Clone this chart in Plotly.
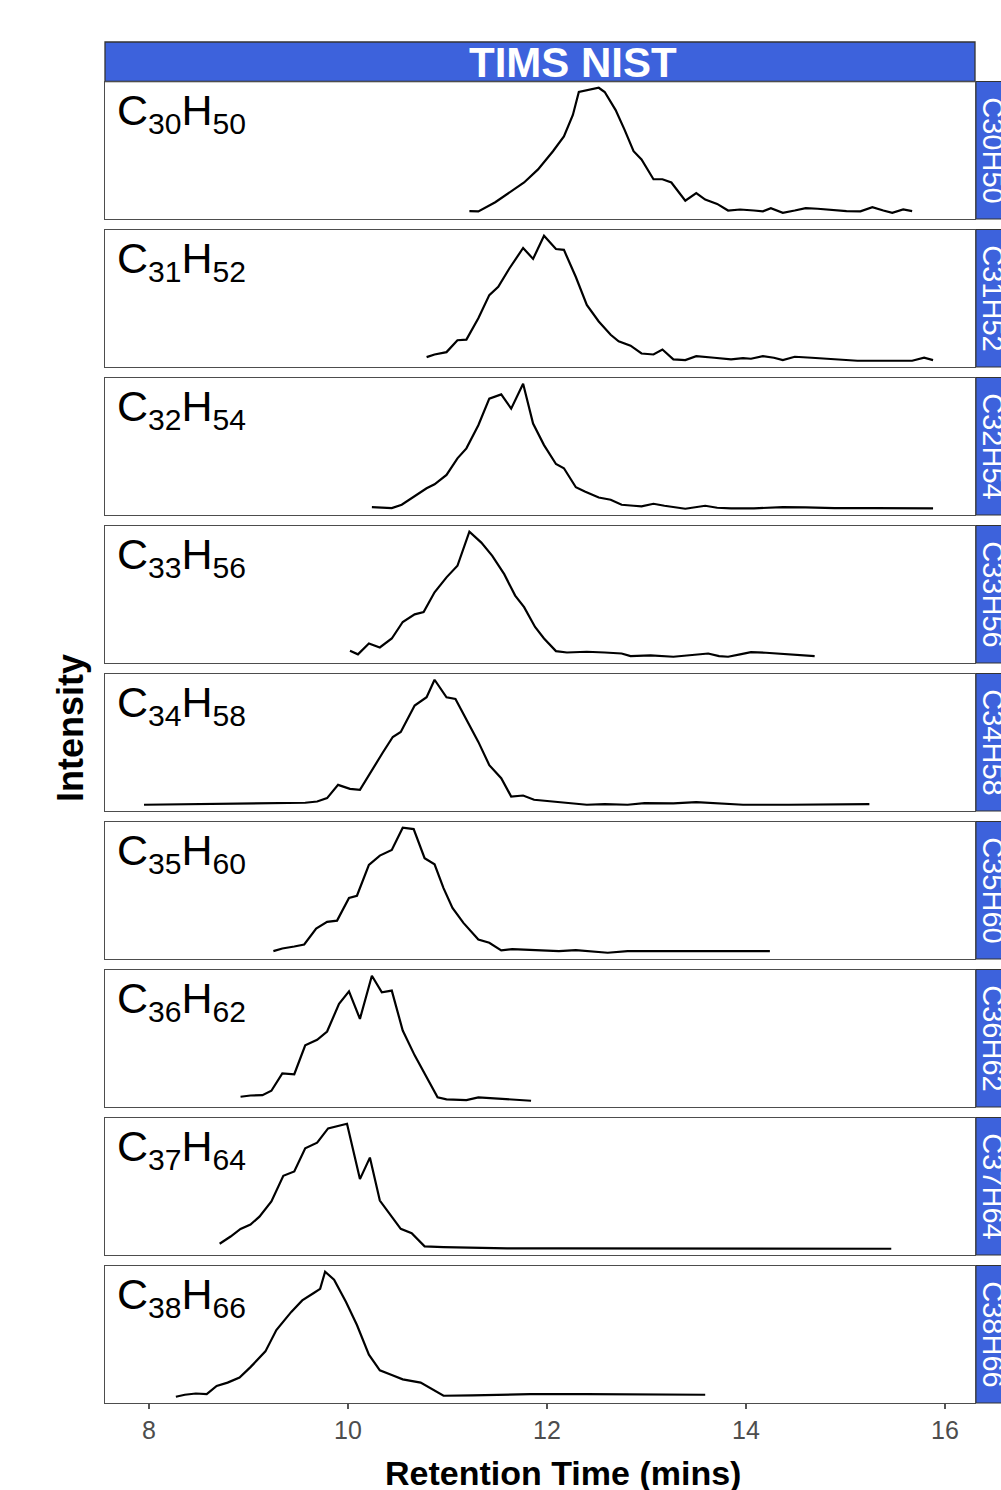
import plotly.graph_objects as go

# ---------------- data (retention time in minutes, relative intensity) ----------------
compounds = ["C30H50", "C31H52", "C32H54", "C33H56", "C34H58",
             "C35H60", "C36H62", "C37H64", "C38H66"]
labels = ["C<sub>30</sub>H<sub>50</sub>", "C<sub>31</sub>H<sub>52</sub>",
          "C<sub>32</sub>H<sub>54</sub>", "C<sub>33</sub>H<sub>56</sub>",
          "C<sub>34</sub>H<sub>58</sub>", "C<sub>35</sub>H<sub>60</sub>",
          "C<sub>36</sub>H<sub>62</sub>", "C<sub>37</sub>H<sub>64</sub>",
          "C<sub>38</sub>H<sub>66</sub>"]

rt_C30H50 = [11.22, 11.31, 11.48, 11.62, 11.77, 11.91, 12.06, 12.17, 12.26, 12.32, 12.40, 12.52,
             12.58, 12.69, 12.78, 12.87, 12.95, 13.07, 13.16, 13.25, 13.39, 13.50, 13.59, 13.71,
             13.82, 13.94, 14.08, 14.17, 14.25, 14.37, 14.49, 14.60, 14.72, 14.83, 15.01, 15.15,
             15.27, 15.38, 15.47, 15.58, 15.67]
int_C30H50 = [1.3, 1.1, 8.4, 15.8, 24.2, 34.7, 49.2, 61.1, 78.2, 96.6, 97.9, 100,
              96.6, 82.1, 66.3, 49.2, 42.6, 26.8, 26.8, 24.2, 9.7, 15.8, 10.5, 7.1,
              1.8, 2.6, 1.8, 1.1, 3.7, 0.0, 1.8, 3.7, 3.2, 2.4, 1.3, 1.1,
              4.5, 1.8, 0.0, 2.6, 1.3]

rt_C31H52 = [10.79, 10.87, 10.99, 11.10, 11.19, 11.31, 11.42, 11.51, 11.62, 11.76, 11.86, 11.97,
             12.09, 12.17, 12.29, 12.40, 12.52, 12.64, 12.72, 12.84, 12.95, 13.07, 13.16, 13.27,
             13.39, 13.50, 13.68, 13.85, 13.97, 14.05, 14.17, 14.28, 14.37, 14.49, 14.66, 14.89,
             15.12, 15.35, 15.67, 15.79, 15.88]
int_C31H52 = [2.9, 5.0, 6.9, 16.4, 16.9, 34.0, 52.5, 59.1, 73.6, 90.2, 81.5, 100,
              89.4, 88.7, 67.0, 44.6, 31.4, 20.8, 15.6, 12.1, 5.8, 5.0, 9.0, 1.1,
              0.5, 3.7, 2.4, 1.1, 2.1, 1.6, 3.7, 2.4, 0.5, 3.2, 2.4, 1.1,
              0.0, 0.0, 0.0, 2.4, 0.5]

rt_C32H54 = [10.24, 10.32, 10.44, 10.54, 10.67, 10.79, 10.87, 10.99, 11.10, 11.19, 11.31, 11.42,
             11.54, 11.64, 11.76, 11.86, 11.97, 12.09, 12.17, 12.29, 12.38, 12.52, 12.64, 12.75,
             12.87, 12.95, 13.07, 13.18, 13.39, 13.50, 13.59, 13.71, 13.85, 14.08, 14.37, 14.60,
             14.89, 15.29, 15.58, 15.88]
int_C32H54 = [1.3, 0.8, 0.5, 3.2, 9.8, 16.4, 19.6, 27.1, 40.3, 48.3, 66.8, 88.1,
              91.5, 80.1, 100, 68.2, 50.9, 35.8, 32.4, 17.2, 13.8, 9.0, 7.2, 3.2,
              2.4, 1.9, 4.0, 2.4, 0.0, 1.3, 2.4, 0.8, 0.3, 0.3, 1.3, 1.1,
              0.5, 0.5, 0.3, 0.3]

rt_C33H56 = [10.02, 10.10, 10.21, 10.32, 10.44, 10.55, 10.67, 10.76, 10.87, 10.99, 11.10, 11.22,
             11.34, 11.45, 11.57, 11.68, 11.77, 11.88, 11.97, 12.09, 12.20, 12.40, 12.58, 12.75,
             12.84, 13.04, 13.27, 13.45, 13.62, 13.73, 13.82, 13.94, 14.05, 14.20, 14.43, 14.69]
int_C33H56 = [4.8, 1.9, 10.6, 7.4, 14.6, 27.8, 33.9, 35.7, 51.6, 63.5, 72.8, 100,
              91.3, 80.7, 66.1, 48.9, 39.7, 23.8, 14.6, 4.5, 3.4, 4.0, 3.4, 2.6,
              0.5, 1.1, 0.0, 1.3, 2.6, 0.5, 0.0, 1.9, 3.7, 3.2, 1.9, 0.5]

rt_C34H58 = [7.95, 8.65, 9.23, 9.57, 9.69, 9.79, 9.90, 10.02, 10.12, 10.24, 10.35, 10.45,
             10.53, 10.67, 10.79, 10.87, 10.99, 11.08, 11.19, 11.31, 11.42, 11.54, 11.64, 11.76,
             11.87, 12.06, 12.23, 12.40, 12.58, 12.81, 12.98, 13.27, 13.50, 13.73, 13.97, 14.43,
             14.89, 15.24]
int_C34H58 = [0.0, 0.5, 1.1, 1.6, 2.6, 5.3, 15.9, 12.7, 11.9, 27.8, 41.8, 54.2,
              58.2, 79.4, 86.0, 100, 86.0, 84.7, 68.8, 50.3, 31.7, 21.2, 6.6, 7.4,
              4.0, 2.6, 1.6, 0.0, 0.5, 0.0, 1.3, 1.1, 2.1, 1.1, 0.0, 0.0,
              0.0, 0.5]

rt_C35H60 = [9.25, 9.34, 9.46, 9.56, 9.68, 9.79, 9.89, 10.01, 10.09, 10.21, 10.32, 10.44,
             10.55, 10.66, 10.77, 10.87, 10.96, 11.05, 11.16, 11.31, 11.42, 11.54, 11.65, 11.88,
             12.12, 12.29, 12.46, 12.61, 12.81, 13.10, 13.39, 13.73, 14.02, 14.24]
int_C35H60 = [1.3, 3.4, 5.0, 6.6, 19.4, 24.7, 25.7, 43.8, 45.6, 70.3, 77.7, 82.2,
              100, 98.9, 75.6, 70.8, 51.7, 35.8, 23.9, 10.6, 8.0, 1.9, 2.9, 2.4,
              1.3, 2.1, 0.8, 0.0, 1.3, 1.3, 1.1, 0.8, 1.1, 1.3]

rt_C36H62 = [8.92, 9.02, 9.14, 9.23, 9.34, 9.46, 9.57, 9.69, 9.79, 9.91, 10.01, 10.12,
             10.24, 10.34, 10.44, 10.55, 10.67, 10.79, 10.90, 10.99, 11.19, 11.31, 11.42, 11.60,
             11.84]
int_C36H62 = [3.2, 4.2, 4.5, 8.0, 21.8, 21.2, 44.3, 48.8, 55.4, 77.5, 87.5, 65.5,
              100, 86.7, 88.1, 56.2, 36.3, 18.6, 2.7, 1.1, 0.5, 2.7, 2.1, 1.1,
              0.0]

rt_C37H64 = [8.71, 8.82, 8.92, 9.02, 9.11, 9.23, 9.35, 9.46, 9.57, 9.69, 9.80, 9.89,
             9.99, 10.12, 10.22, 10.32, 10.43, 10.53, 10.64, 10.77, 10.96, 11.25, 11.60, 12.12,
             12.69, 13.27, 13.85, 14.43, 15.01, 15.46]
int_C37H64 = [4.0, 9.8, 15.9, 19.4, 25.7, 37.9, 58.4, 61.8, 80.4, 84.9, 96.3, 98.1,
              100, 55.7, 72.9, 38.5, 26.5, 15.9, 12.5, 1.9, 1.3, 0.8, 0.3, 0.3,
              0.3, 0.0, 0.0, 0.0, 0.0, 0.0]

rt_C38H66 = [8.27, 8.36, 8.47, 8.58, 8.68, 8.79, 8.91, 9.02, 9.17, 9.28, 9.43, 9.54,
             9.66, 9.72, 9.77, 9.86, 9.98, 10.09, 10.21, 10.32, 10.44, 10.55, 10.73, 10.96,
             11.25, 11.54, 11.83, 12.40, 12.98, 13.59]
int_C38H66 = [0.0, 1.6, 2.6, 2.1, 8.7, 11.3, 15.3, 23.7, 36.3, 53.4, 67.9, 77.1,
              83.2, 86.3, 100, 93.7, 75.8, 57.4, 33.7, 21.1, 17.4, 13.9, 11.3, 0.8,
              1.1, 1.6, 2.1, 2.1, 1.6, 1.6]

rts = [rt_C30H50, rt_C31H52, rt_C32H54, rt_C33H56, rt_C34H58,
       rt_C35H60, rt_C36H62, rt_C37H64, rt_C38H66]
ints = [int_C30H50, int_C31H52, int_C32H54, int_C33H56, int_C34H58,
        int_C35H60, int_C36H62, int_C37H64, int_C38H66]

x_ticks = [8, 10, 12, 14, 16]
facet_title = "TIMS NIST"
x_title = "Retention Time (mins)"
y_title = "Intensity"

# ---------------- layout geometry (pixels) ----------------
W, H = 1001, 1490
left_px, right_px = 105, 975
first_top, step, panel_h = 81.5, 148.0, 137.5
header_top = 42
strip_right = 1020
strip_color = "#3d62dc"
font_family = "Liberation Sans, Arial, sans-serif"

def px_x(p):
    return p / W

def px_y(p):
    return 1 - p / H

x_range = [8 - 44 / 99.5, 16 + 30 / 99.5]

fig = go.Figure()
layout = dict(
    width=W, height=H,
    margin=dict(l=0, r=0, t=0, b=0),
    paper_bgcolor="white", plot_bgcolor="white",
    showlegend=False,
)
shapes = []
annotations = []

n = len(compounds)
for i in range(n):
    top = first_top + step * i
    bot = top + panel_h
    suffix = "" if i == 0 else str(i + 1)
    xa, ya = "x" + suffix, "y" + suffix
    fig.add_trace(go.Scatter(
        x=rts[i], y=ints[i], mode="lines",
        line=dict(color="black", width=2.2),
        xaxis=xa, yaxis=ya, hoverinfo="x+y", name=compounds[i],
    ))
    lo, hi = min(ints[i]), max(ints[i])
    span = hi - lo
    last = (i == n - 1)
    layout["xaxis" + suffix] = dict(
        domain=[px_x(left_px), px_x(right_px)],
        anchor=ya, range=x_range,
        showgrid=False, zeroline=False,
        showline=True, mirror=True, linecolor="#4d4d4d", linewidth=1.3,
        tickmode="array", tickvals=x_ticks,
        ticktext=[str(t) for t in x_ticks],
        showticklabels=last,
        ticks="outside" if last else "",
        ticklen=5, tickwidth=1.5, tickcolor="#555555",
        tickfont=dict(family=font_family, size=25, color="#4d4d4d"),
    )
    layout["yaxis" + suffix] = dict(
        domain=[px_y(bot), px_y(top)],
        anchor=xa, range=[lo - 0.05 * span, hi + 0.05 * span],
        showgrid=False, zeroline=False,
        showline=True, mirror=True, linecolor="#4d4d4d", linewidth=1.3,
        showticklabels=False, ticks="",
    )
    # right facet strip
    shapes.append(dict(
        type="rect", xref="paper", yref="paper",
        x0=px_x(right_px + 1), x1=px_x(strip_right),
        y0=px_y(bot), y1=px_y(top),
        fillcolor=strip_color, line=dict(color="#333333", width=1), layer="below",
    ))
    annotations.append(dict(
        xref="paper", yref="paper", x=px_x(993), y=px_y((top + bot) / 2),
        text=compounds[i], textangle=90, showarrow=False,
        font=dict(family=font_family, size=29, color="white"),
        xanchor="center", yanchor="middle",
    ))
    # formula label inside panel
    annotations.append(dict(
        xref="paper", yref="paper", x=px_x(115), y=px_y(top + 2),
        text=labels[i], showarrow=False, xanchor="left", yanchor="top",
        font=dict(family=font_family, size=43, color="black"),
    ))

# top header strip
shapes.append(dict(
    type="rect", xref="paper", yref="paper",
    x0=px_x(left_px), x1=px_x(right_px),
    y0=px_y(first_top), y1=px_y(header_top),
    fillcolor=strip_color, line=dict(color="#333333", width=1.3), layer="below",
))
annotations.append(dict(
    xref="paper", yref="paper", x=px_x(573), y=px_y((header_top + first_top) / 2 + 1),
    text="<b>" + facet_title + "</b>", showarrow=False,
    xanchor="center", yanchor="middle",
    font=dict(family=font_family, size=42, color="white"),
))
# axis titles
annotations.append(dict(
    xref="paper", yref="paper", x=px_x(563), y=px_y(1473),
    text="<b>" + x_title + "</b>", showarrow=False,
    xanchor="center", yanchor="middle",
    font=dict(family=font_family, size=34, color="black"),
))
annotations.append(dict(
    xref="paper", yref="paper", x=px_x(70), y=px_y(728),
    text="<b>" + y_title + "</b>", showarrow=False, textangle=-90,
    xanchor="center", yanchor="middle",
    font=dict(family=font_family, size=36, color="black"),
))

layout["shapes"] = shapes
layout["annotations"] = annotations
fig.update_layout(**layout)
fig.write_html("out.html")
